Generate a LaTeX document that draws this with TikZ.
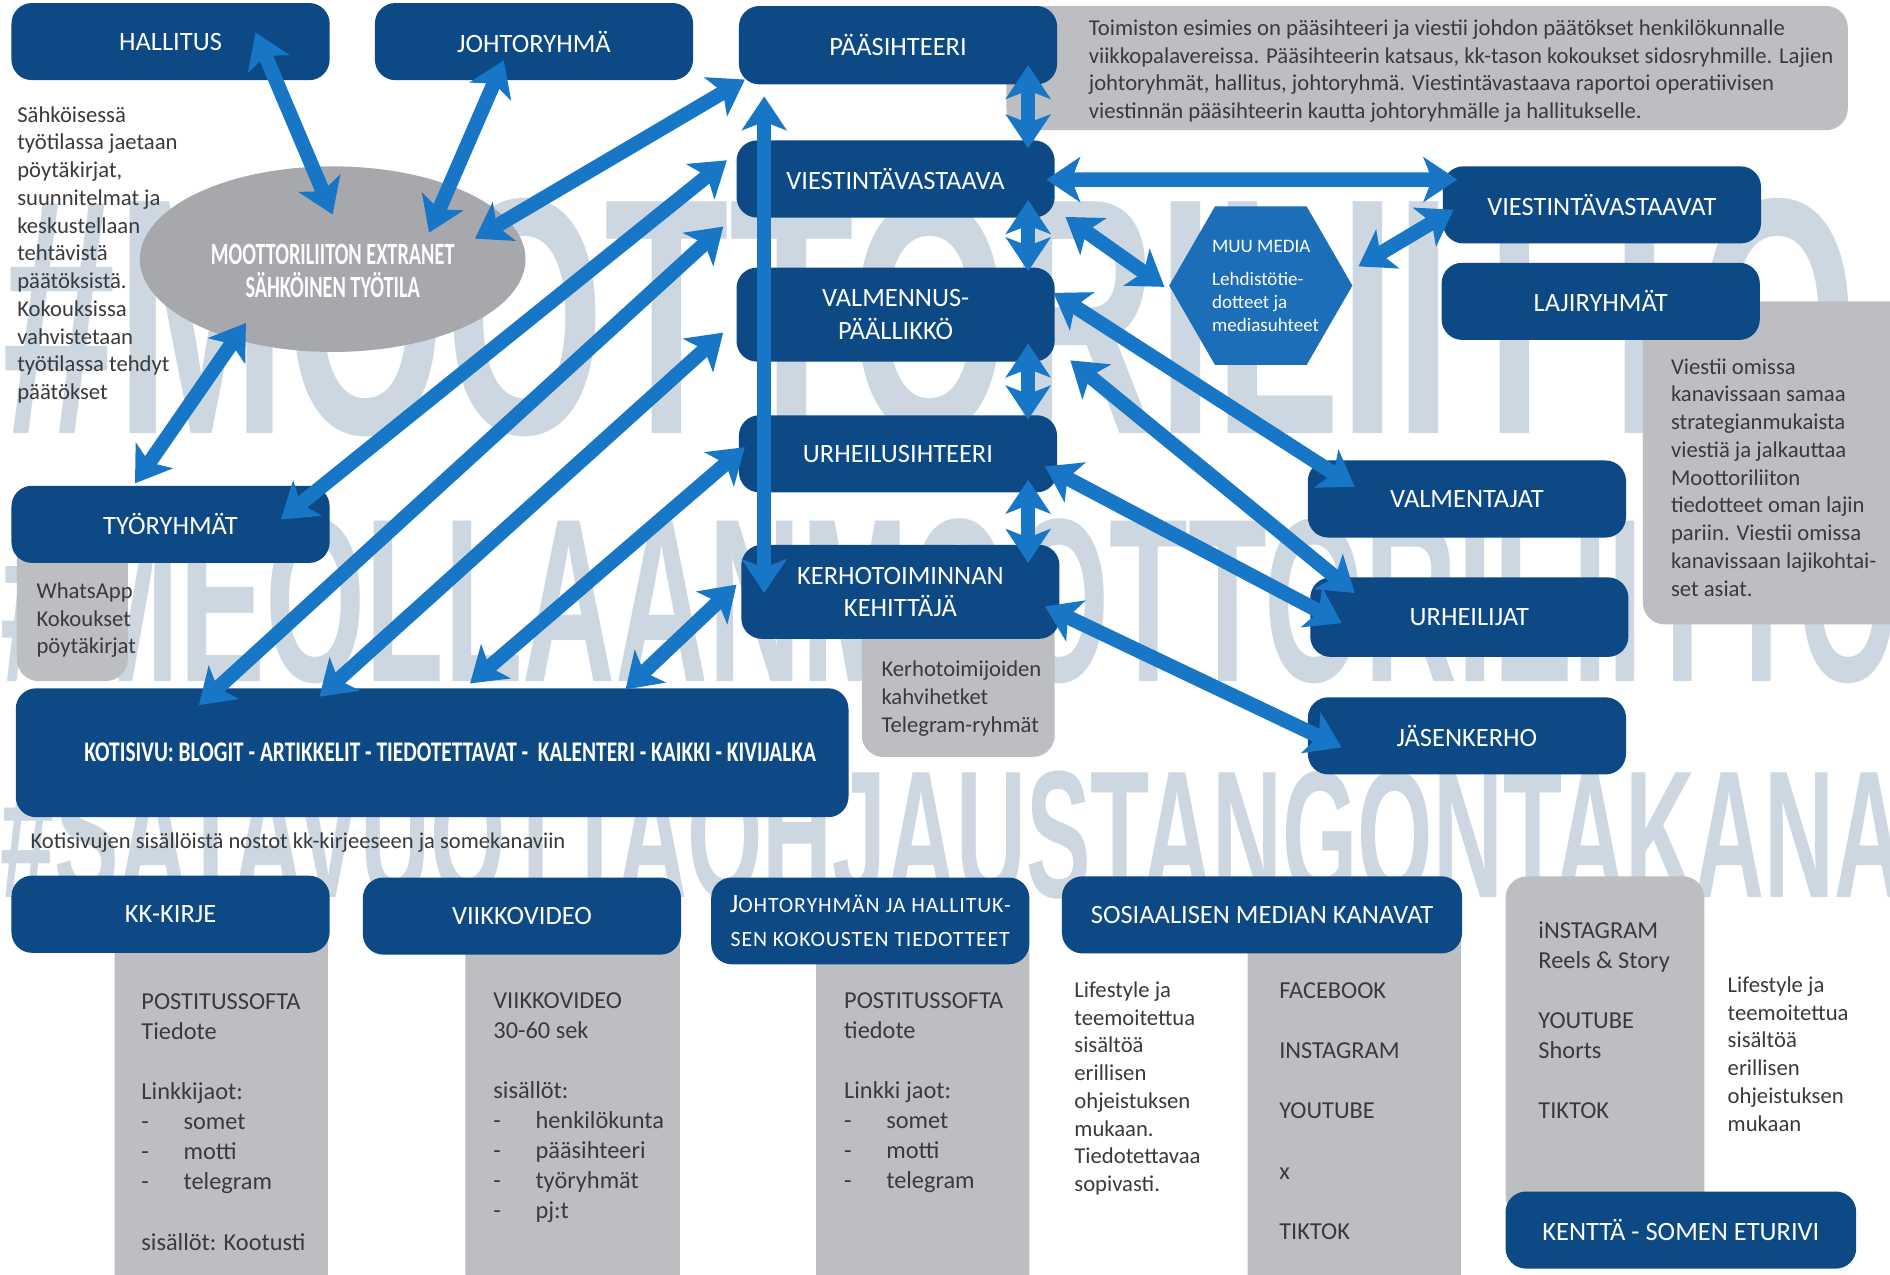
\documentclass[tikz,border=0pt]{standalone}
\usepackage{fontspec}
\setmainfont{Carlito}
\newfontfamily\markfont{Liberation Sans}
\usetikzlibrary{arrows.meta,shapes.geometric}
\definecolor{boxblue}{RGB}{12,73,133}
\definecolor{arrowblue}{RGB}{24,118,199}
\definecolor{hexblue}{RGB}{28,110,185}
\definecolor{notegrey}{RGB}{189,190,193}
\definecolor{ovalgrey}{RGB}{166,168,171}
\definecolor{markblue}{RGB}{204,215,226}
\definecolor{notetext}{RGB}{58,58,60}
\newcommand{\listdash}{\makebox[0.7cm][l]{-}}
\tikzset{
    > = {Stealth[length=0.56cm, width=0.74cm, inset=0.14cm]},
    box/.style = {fill=boxblue, text=white, rounded corners=0.34cm, align=center,
        minimum width=5.28cm, minimum height=1.28cm, inner sep=2pt,
        font=\fontsize{12.5}{15.4}\selectfont},
    panel/.style = {fill=notegrey, rounded corners=0.36cm},
    notetxt/.style = {anchor=north west, inner sep=0, align=left, text=notetext,
        font=\fontsize{10.7}{13.1}\selectfont},
    listtxt/.style = {notetxt, font=\fontsize{11.5}{14.2}\selectfont},
    wmark/.style = {anchor=base west, inner sep=0, text=markblue, font=\markfont\bfseries},
    link/.style = {<->, draw=arrowblue, line width=0.24cm}
}

\begin{document}
\begin{tikzpicture}[x=0.02cm, y=-0.02cm]
    \useasboundingbox (0,0) rectangle (1568,1057);
    \clip (0,0) rectangle (1568,1057);
    \fill[white] (0,0) rectangle (1568,1057);

    % slogans in the background
    \node[wmark] (mark1) at (2,360) {\resizebox{30.76cm}{3.9cm}{\#MOOTTORILIITTO}};
    \node[wmark] (mark2) at (0,565) {\resizebox{31.5cm}{2.7cm}{\#MEOLLAANMOOTTORILIITTO}};
    \node[wmark] (mark3) at (0,745) {\resizebox{31.6cm}{2.1cm}{\#SATAVUOTTAOHJAUSTANGONTAKANA}};

    % grey panels
    \fill[panel] (835,5) rectangle (1533,108);
    \fill[panel] (1363,250) rectangle (1600,518);
    \fill[panel] (14,440) rectangle (106,565);
    \fill[panel] (715,500) rectangle (875,628);
    \fill[panel] (95,760) rectangle (272,1080);
    \fill[panel] (386,760) rectangle (564,1080);
    \fill[panel] (677,770) rectangle (854,1080);
    \fill[panel] (1035,760) rectangle (1212,1080);
    \fill[panel] (1249,727) rectangle (1414,1010);

    % extranet and other media
    \node[ellipse, fill=ovalgrey, minimum width=6.4cm, minimum height=3.08cm] (extra) at (276,215) {};
    \node[text=white, align=center, inner sep=0, font=\fontsize{14.6}{15.4}\selectfont\bfseries] (extratxt) at (276,225)
        {\scalebox{0.656}[1]{MOOTTORILIITON EXTRANET}\\\scalebox{0.656}[1]{SÄHKÖINEN TYÖTILA}};
    \node[regular polygon, regular polygon sides=6, minimum size=3.04cm, fill=hexblue, inner sep=0] (muu) at (1046,237) {};
    \node[align=left, text=white, inner sep=0, font=\fontsize{9}{10.8}\selectfont] (muutxt) at (1050,237)
        {MUU MEDIA\\[5pt]Lehdistötie-\\dotteet ja\\mediasuhteet};

    % boxes
    \node[box] (hallitus) at (141.5,34.5) {HALLITUS};
    \node[box] (johto) at (443,34.5) {JOHTORYHMÄ};
    \node[box, minimum height=1.3cm] (paasiht) at (745,37.5) {PÄÄSIHTEERI};
    \node[box] (viesti) at (743,148.5) {VIESTINTÄVASTAAVA};
    \node[box, minimum height=1.56cm] (valm) at (743,261) {VALMENNUS-\\PÄÄLLIKKÖ};
    \node[box] (urheilu) at (745,376.5) {URHEILUSIHTEERI};
    \node[box, minimum height=1.56cm] (kerho) at (747,491) {KERHOTOIMINNAN\\KEHITTÄJÄ};
    \node[box] (viestit) at (1329,170) {VIESTINTÄVASTAAVAT};
    \node[box] (laji) at (1328,250) {LAJIRYHMÄT};
    \node[box] (valmentajat) at (1217,414) {VALMENTAJAT};
    \node[box, minimum height=1.32cm] (urheilijat) at (1219,512) {URHEILIJAT};
    \node[box] (jasen) at (1217,610.5) {JÄSENKERHO};
    \node[box] (tyoryhmat) at (141.5,435) {TYÖRYHMÄT};
    \node[box, minimum width=13.82cm, minimum height=2.14cm] (kotisivu) at (358.5,624.5)
        {\hspace*{0.6cm}\resizebox{12.14cm}{0.31cm}{\bfseries KOTISIVU: BLOGIT - ARTIKKELIT - TIEDOTETTAVAT -\ \ KALENTERI - KAIKKI - KIVIJALKA}};
    \node[box] (kirje) at (141.5,758.5) {KK-KIRJE};
    \node[box] (viikko) at (433,760) {VIIKKOVIDEO};
    \node[box, minimum height=1.44cm, font={\fontsize{10.3}{16}\selectfont\addfontfeature{LetterSpace=4}}] (tiedotteet) at (722,764)
        {{\fontsize{12.5}{16}\selectfont J}OHTORYHMÄN JA HALLITUK-\\SEN KOKOUSTEN TIEDOTTEET};
    \node[box, minimum width=6.64cm] (kanavat) at (1047,759) {SOSIAALISEN MEDIAN KANAVAT};
    \node[box, minimum width=5.82cm] (kentta) at (1394.5,1020.5) {KENTTÄ - SOMEN ETURIVI};

    % texts
    \node[notetxt] (sahko) at (14,88) {Sähköisessä\\työtilassa jaetaan\\pöytäkirjat,\\suunnitelmat ja\\keskustellaan\\tehtävistä\\päätöksistä.\\Kokouksissa\\vahvistetaan\\työtilassa tehdyt\\päätökset};
    \node[notetxt] (toptxt) at (903,16) {Toimiston esimies on pääsihteeri ja viestii johdon päätökset henkilökunnalle\\viikkopalavereissa. Pääsihteerin katsaus, kk-tason kokoukset sidosryhmille. Lajien\\johtoryhmät, hallitus, johtoryhmä. Viestintävastaava raportoi operatiivisen\\viestinnän pääsihteerin kautta johtoryhmälle ja hallitukselle.};
    \node[notetxt] (lajitxt) at (1386,297) {Viestii omissa\\kanavissaan samaa\\strategianmukaista\\viestiä ja jalkauttaa\\Moottoriliiton\\tiedotteet oman lajin\\pariin. Viestii omissa\\kanavissaan lajikohtai-\\set asiat.};
    \node[notetxt] (tyotxt) at (30,483) {WhatsApp\\Kokoukset\\pöytäkirjat};
    \node[notetxt] (kerhotxt) at (731,548) {Kerhotoimijoiden\\kahvihetket\\Telegram-ryhmät};
    \node[anchor=west, inner sep=0, text=notetext, font=\fontsize{10.65}{12}\selectfont] (caption) at (25,699)
        {Kotisivujen sisällöistä nostot kk-kirjeeseen ja somekanaviin};
    \node[listtxt] (kirjetxt) at (117,824) {POSTITUSSOFTA\\Tiedote\\[14.2pt]Linkkijaot:\\\listdash somet\\\listdash motti\\\listdash telegram\\[14.2pt]sisällöt: Kootusti};
    \node[listtxt] (viikkotxt) at (409,823) {VIIKKOVIDEO\\30-60 sek\\[14.2pt]sisällöt:\\\listdash henkilökunta\\\listdash pääsihteeri\\\listdash työryhmät\\\listdash pj:t};
    \node[listtxt] (tiedtxt) at (700,823) {POSTITUSSOFTA\\tiedote\\[14.2pt]Linkki jaot:\\\listdash somet\\\listdash motti\\\listdash telegram};
    \node[listtxt, font=\fontsize{11.5}{28.4}\selectfont] (sometxt) at (1061,815) {FACEBOOK\\INSTAGRAM\\YOUTUBE\\x\\TIKTOK};
    \node[notetxt] (lifetxt) at (891,814) {Lifestyle ja\\teemoitettua\\sisältöä\\erillisen\\ohjeistuksen\\mukaan.\\Tiedotettavaa\\sopivasti.};
    \node[listtxt] (instatxt) at (1276,764) {iNSTAGRAM\\Reels \& Story\\[14.2pt]YOUTUBE\\Shorts\\[14.2pt]TIKTOK};
    \node[notetxt] (life2txt) at (1433,810) {Lifestyle ja\\teemoitettua\\sisältöä\\erillisen\\ohjeistuksen\\mukaan};

    % arrows
    \draw[link] ([shift={(70.5,-7.5)}]hallitus.center) -- ([shift={(0,-37)}]extra.center);
    \draw[link] ([shift={(-25,15.5)}]johto.center) -- ([shift={(80,-22)}]extra.center);
    \draw[link] ([shift={(-127,28.5)}]paasiht.center) -- ([shift={(118,-17)}]extra.center);
    \draw[link] ([shift={(-72,53)}]extra.center) -- ([shift={(-29.5,-34)}]tyoryhmat.center);
    \draw[link] ([shift={(91.5,-4)}]tyoryhmat.center) -- ([shift={(-140,-15.5)}]viesti.center);
    \draw[link] ([shift={(-193.5,-39.5)}]kotisivu.center) -- ([shift={(-143,39.5)}]viesti.center);
    \draw[link] ([shift={(-93.5,-46.5)}]kotisivu.center) -- ([shift={(-143,15)}]valm.center);
    \draw[link] ([shift={(31.5,-57.5)}]kotisivu.center) -- ([shift={(-127,-5.5)}]urheilu.center);
    \draw[link] ([shift={(160.5,-52.5)}]kotisivu.center) -- ([shift={(-136,-6)}]kerho.center);
    \draw[link] ([shift={(-111,42.5)}]paasiht.center) -- ([shift={(-113,1)}]kerho.center);
    \draw[link] ([shift={(108,16.5)}]paasiht.center) -- ([shift={(110,-25.5)}]viesti.center);
    \draw[link] ([shift={(110,17.5)}]viesti.center) -- ([shift={(110,-36)}]valm.center);
    \draw[link] ([shift={(110,24)}]valm.center) -- ([shift={(108,-28.5)}]urheilu.center);
    \draw[link] ([shift={(108,21.5)}]urheilu.center) -- ([shift={(106,-24)}]kerho.center);
    \draw[link] ([shift={(125,0.5)}]viesti.center) -- ([shift={(-120,-21)}]viestit.center);
    \draw[link] ([shift={(141,31.5)}]viesti.center) -- ([shift={(-80,1)}]muu.center);
    \draw[link] ([shift={(-123,4)}]viestit.center) -- ([shift={(81,-16)}]muu.center);
    \draw[link] ([shift={(131,-18)}]valm.center) -- ([shift={(-93,-10)}]valmentajat.center);
    \draw[link] ([shift={(145,38)}]valm.center) -- ([shift={(-95,-20)}]urheilijat.center);
    \draw[link] ([shift={(122,10.5)}]urheilu.center) -- ([shift={(-106,5)}]urheilijat.center);
    \draw[link] ([shift={(120,12)}]kerho.center) -- ([shift={(-104,9.5)}]jasen.center);
\end{tikzpicture}
\end{document}
